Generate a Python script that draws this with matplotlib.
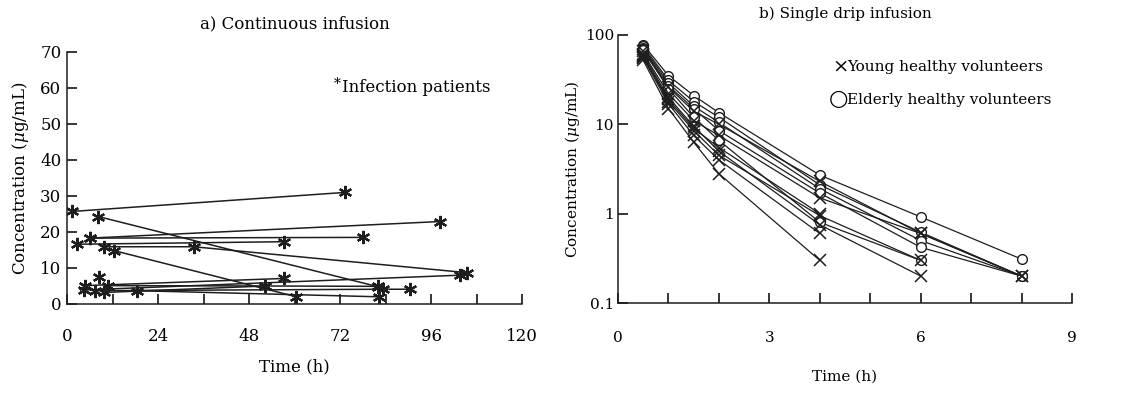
import matplotlib
matplotlib.use("Agg")
import matplotlib.pyplot as plt

plt.rcParams['font.family'] = ['DejaVu Serif', 'DejaVu Sans']
plt.rcParams['mathtext.fontset'] = 'dejavuserif'

# ---- a) continuous infusion: one list per patient (time h, conc ug/mL) ----
cont_t = [
    [1.3, 73.4],
    [8.2, 82.0],
    [6.0, 98.3],
    [6.0, 78.0],
    [2.6, 57.3],
    [9.7, 33.4, 105.5],
    [12.5, 60.5],
    [4.7, 57.3],
    [4.4, 103.6],
    [10.7, 52.3, 82.0],
    [7.5, 83.3, 90.4],
    [18.5, 82.2],
    [9.7, 52.3],
    [8.4],
]
cont_c = [
    [25.7, 31.0],
    [24.3, 4.8],
    [18.3, 22.9],
    [18.3, 18.5],
    [16.6, 17.3],
    [15.9, 15.9, 8.7],
    [14.8, 2.0],
    [5.1, 7.1],
    [3.9, 8.0],
    [5.1, 5.0, 4.9],
    [3.7, 4.1, 4.1],
    [3.7, 2.0],
    [3.2, 5.0],
    [7.6],
]

# ---- b) single drip infusion ----
drip_t = [0.5, 1, 1.5, 2, 4, 6, 8]
young_c = [
    [52, 15, 6.3, 2.8, 0.3],
    [55, 17, 7.5, 4.0, 0.6],
    [58, 18, 8.5, 4.5, 0.95, 0.3],
    [60, 20, 9.5, 5.0, 0.75, 0.2],
    [62, 22, 11, 7.5, 1.5, 0.6, 0.2],
    [66, 26, 14, 10, 2.3, 0.6, 0.2],
    [57, 19, 9.0, 5.5, 1.0],
]
elderly_c = [
    [78, 35, 21, 13.5, 2.7, 0.92, 0.31],
    [75, 31, 18, 12, 2.1, 0.62, 0.2],
    [72, 29, 16, 10.5, 1.9, 0.5, 0.2],
    [70, 27, 15, 8.5, 1.7, 0.42, 0.2],
    [68, 25, 12, 6.6, 0.8, 0.3],
]

fig = plt.figure(figsize=(11.38, 3.95), dpi=100)

ax1 = fig.add_axes([0.0589, 0.2304, 0.3998, 0.638])
for t, c in zip(cont_t, cont_c):
    ax1.plot(t, c, color='#1e1e1e', lw=1.1, marker=(6, 2, 0), ms=9.5, mew=1.6)
ax1.set_xlim(0, 120)
ax1.set_ylim(0, 70)
ax1.set_xticks([0, 24, 48, 72, 96, 120])
ax1.set_xticks(range(0, 121, 12), minor=True)
ax1.set_yticks(range(0, 71, 10))
ax1.tick_params(direction='in', length=7, width=1.1, labelsize=12, pad=4)
ax1.tick_params(axis='x', which='both', direction='in', length=7, width=1.1, pad=17)
ax1.set_xlabel('Time (h)', fontsize=12, labelpad=10)
ax1.set_ylabel(r'Concentration ($\mu$g/mL)', fontsize=12, labelpad=7)
ax1.set_title('a) Continuous infusion', fontsize=12, pad=17)
ax1.text(70.3, 61.0, '*', fontsize=10, va='center', ha='left')
ax1.text(72.5, 60, 'Infection patients', fontsize=12, va='center', ha='left')

ax2 = fig.add_axes([0.5431, 0.2329, 0.3989, 0.6785])
for c in elderly_c:
    ax2.plot(drip_t[:len(c)], c, color='#1e1e1e', lw=0.9, marker='o', ms=7,
             mfc='white', mew=1.0)
for c in young_c:
    ax2.plot(drip_t[:len(c)], c, color='#1e1e1e', lw=0.9, marker='x', ms=9, mew=1.1)
ax2.set_yscale('log')
ax2.set_xlim(0, 9)
ax2.set_ylim(0.1, 100)
ax2.set_xticks([0, 3, 6, 9])
ax2.set_xticks(range(0, 10), minor=True)
ax2.set_yticks([0.1, 1, 10, 100])
ax2.set_yticklabels(['0.1', '1', '10', '100'])
ax2.yaxis.set_minor_locator(matplotlib.ticker.NullLocator())
ax2.tick_params(direction='in', length=7, width=1.1, labelsize=11, pad=3)
ax2.tick_params(axis='x', which='both', direction='in', length=7, width=1.1, pad=20)
ax2.set_xlabel('Time (h)', fontsize=11, labelpad=18)
ax2.set_ylabel(r'Concentration ($\mu$g/mL)', fontsize=11, labelpad=2)
ax2.set_title('b) Single drip infusion', fontsize=11, pad=12)
ax2.text(4.25, 44, '\u00d7', fontsize=14, va='center', ha='left')
ax2.text(4.54, 43.8, 'Young healthy volunteers', fontsize=11, va='center', ha='left')
ax2.text(4.18, 19, '\u25cb', fontsize=16, va='center', ha='left', family=['DejaVu Sans'])
ax2.text(4.54, 18.7, 'Elderly healthy volunteers', fontsize=11, va='center', ha='left')

for ax in (ax1, ax2):
    ax.spines['top'].set_visible(False)
    ax.spines['right'].set_visible(False)
    for s in ('left', 'bottom'):
        ax.spines[s].set_linewidth(1.1)
        ax.spines[s].set_color('#1e1e1e')

fig.savefig('out.png', dpi=100)
